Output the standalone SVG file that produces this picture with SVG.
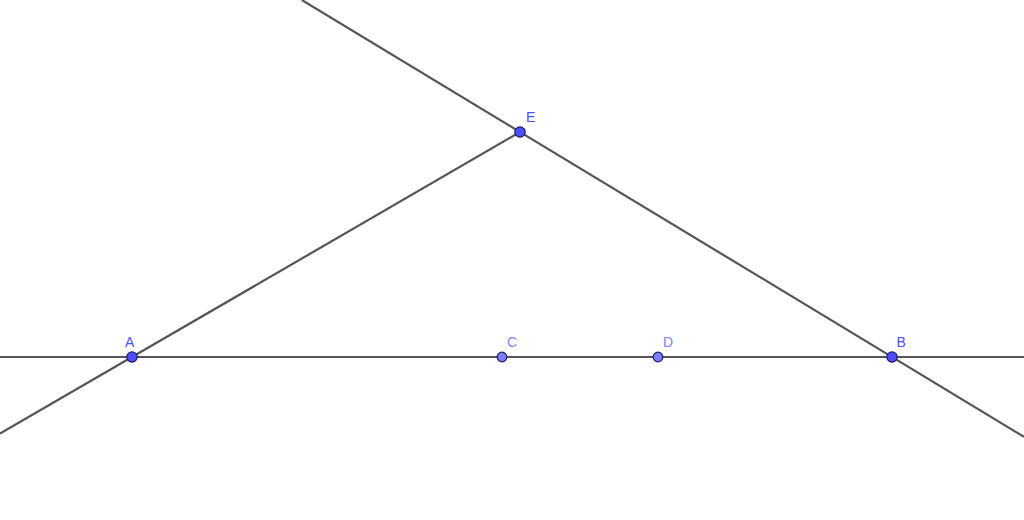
<svg xmlns="http://www.w3.org/2000/svg" width="1024" height="520" viewBox="0 0 1024 520">
<style>
.ln{stroke:#555555;stroke-width:2.2;fill:none}
.pt{stroke:#1a1a66;stroke-width:1.2}
.dark{fill:#4d4dff}
.light{fill:#7d7dff}
.lb{font-family:"Liberation Sans",Arial,sans-serif;font-size:14px}
.lbd{fill:#4d4dff}
.lbl{fill:#8080ff}
</style>
<rect width="1024" height="520" fill="#ffffff"/>
<g id="connectors">
<line class="ln" x1="0" y1="357" x2="1024" y2="357"/>
<line class="ln" x1="0" y1="433.6" x2="520" y2="132"/>
<line class="ln" x1="301.8" y1="0" x2="1024" y2="436.8"/>
</g>
<g id="A"><circle class="pt dark" cx="132" cy="357" r="5.2"/><text class="lb lbd" x="125" y="346.5">A</text></g>
<g id="C"><circle class="pt light" cx="502" cy="357" r="4.8"/><text class="lb lbl" x="507" y="346.5">C</text></g>
<g id="D"><circle class="pt light" cx="658" cy="357" r="4.8"/><text class="lb lbl" x="663" y="346.5">D</text></g>
<g id="B"><circle class="pt dark" cx="892" cy="357" r="5.2"/><text class="lb lbd" x="896.5" y="346.5">B</text></g>
<g id="E"><circle class="pt dark" cx="520" cy="132" r="5.2"/><text class="lb lbd" x="526" y="122">E</text></g>
</svg>
